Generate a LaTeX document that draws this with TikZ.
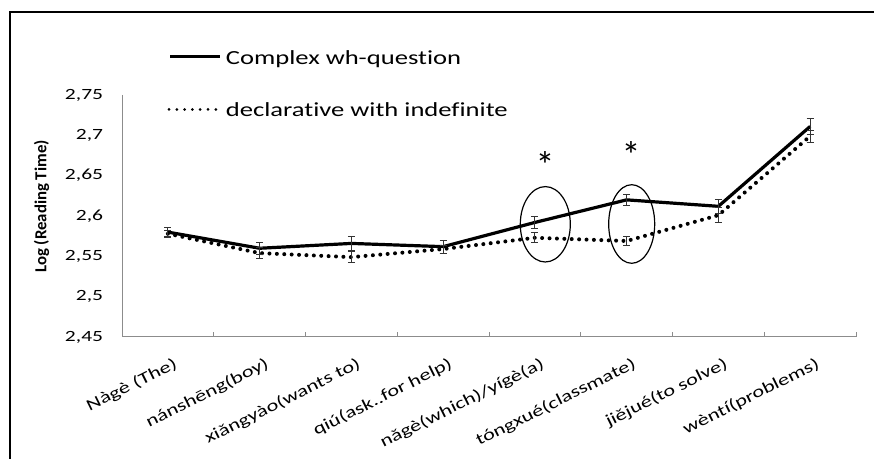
\documentclass[tikz,border=0pt]{standalone}
\usepackage{fontspec}
\setmainfont{Carlito}[RawFeature={-liga}]
\usepackage{graphicx}
\begin{document}
\begin{tikzpicture}[x=0.5pt,y=-0.5pt,
  declare function={yv(\v)=337-(\v-2.45)*806.67;},
  axisline/.style={draw=black!45, line width=0.5pt},
  seriesA/.style={line width=1.6pt, line join=round, black},
  seriesB/.style={line width=2pt, line cap=round, dash pattern=on 0pt off 3.7pt, black},
  errbar/.style={line width=0.5pt, black!80},
  ticklab/.style={font=\fontsize{7.8}{9}\selectfont, anchor=east, inner sep=0pt},
  catlab/.style={font=\fontsize{8.2}{9}\selectfont, anchor=north east, rotate=26.5, inner sep=0pt},
  ring/.style={draw=black, line width=0.6pt},
  legtext/.style={font=\fontsize{10}{12}\selectfont, anchor=base west, inner sep=0pt},
  star/.style={font=\fontsize{19}{21}\selectfont, anchor=base, inner sep=0pt},
]
\useasboundingbox (0,0) rectangle (874,459);
\fill[white] (0,0) rectangle (874,459);
% frame
\draw[line width=1pt] (10,459) -- (10,12.5) -- (874,12.5);
% axes
\coordinate (ytop) at (122,95);
\coordinate (orig) at (122,337);
\coordinate (xend) at (856,337);
\draw[axisline] (ytop) -- (orig) -- (xend);
\foreach \i in {1,...,8} \draw[axisline] ({122+91.75*\i},337) -- ({122+91.75*\i},332);
% tick labels
\foreach \v/\t [count=\k] in {2.45/{2,45},2.5/{2,5},2.55/{2,55},2.6/{2,6},2.65/{2,65},2.7/{2,7},2.75/{2,75}}
  \node[ticklab] (tl\k) at (103.5,{yv(\v)}) {\scalebox{1.38}[1]{\t}};
% y label
\node[font=\bfseries\fontsize{8.4}{10}\selectfont, rotate=90, inner sep=0pt] (ylab) at (41.5,206.5) {Log (Reading Time)};
% category labels
\foreach \t [count=\k from 0] in {{Nàgè (The)},{nánshēng(boy)},{xiǎngyào(wants to)},{qiú(ask..for help)},{nǎgè(which)/yígè(a)},{tóngxué(classmate)},{jiějué(to solve)},{wèntí(problems)}}
  \node[catlab] (cat\k) at ({167.9+91.75*\k+5},356) {\scalebox{1.36}[1]{\t}};
% data points
\foreach \v [count=\k] in {2.580,2.560,2.566,2.562,2.592,2.620,2.612,2.711}
  \coordinate (a\k) at ({167.9+91.75*(\k-1)},{yv(\v)});
\foreach \v [count=\k] in {2.578,2.554,2.549,2.559,2.573,2.569,2.601,2.699}
  \coordinate (b\k) at ({167.9+91.75*(\k-1)},{yv(\v)});
\draw[seriesA] (a1) -- (a2) -- (a3) -- (a4) -- (a5) -- (a6) -- (a7) -- (a8);
\draw[seriesB] (b1) -- (b2) -- (b3) -- (b4) -- (b5) -- (b6) -- (b7) -- (b8);
% error bars
\foreach \v/\e [count=\k] in {2.580/0.0055,2.560/0.0074,2.566/0.0083,2.562/0.008,2.592/0.0074,2.620/0.0072,2.612/0.0087,2.711/0.010}
  {\pgfmathsetmacro\xx{167.9+91.75*(\k-1)}
   \draw[errbar] (\xx-3.5,{yv(\v+\e)}) -- (\xx+3.5,{yv(\v+\e)})
                 (\xx,{yv(\v+\e)}) -- (\xx,{yv(\v-\e)})
                 (\xx-3.5,{yv(\v-\e)}) -- (\xx+3.5,{yv(\v-\e)});}
\foreach \v/\e [count=\k] in {2.578/0.0045,2.554/0.0073,2.549/0.007,2.559/0.005,2.573/0.006,2.569/0.006,2.601/0.0093,2.699/0.0073}
  {\pgfmathsetmacro\xx{167.9+91.75*(\k-1)}
   \draw[errbar] (\xx-3.5,{yv(\v+\e)}) -- (\xx+3.5,{yv(\v+\e)})
                 (\xx,{yv(\v+\e)}) -- (\xx,{yv(\v-\e)})
                 (\xx-3.5,{yv(\v-\e)}) -- (\xx+3.5,{yv(\v-\e)});}
% significance rings and stars
\draw[ring] (545.3,224.3) ellipse [x radius=25, y radius=37.7];
\draw[ring] (631.7,224) ellipse [x radius=23, y radius=39.3];
\node[star] (s1) at (545,178.5) {*};
\node[star] (s2) at (631,168.5) {*};
% legend
\coordinate (la1) at (170,56.5);
\coordinate (la2) at (220,56.5);
\coordinate (lb1) at (169,109.5);
\coordinate (lb2) at (217,109.5);
\draw[seriesA] (la1) -- (la2);
\draw[line width=1.5pt, line cap=round, dash pattern=on 0pt off 3.9pt] (lb1) -- (lb2);
\node[legtext] (leg1) at (225.5,64.5) {\scalebox{1.33}[1]{Complex wh-question}};
\node[legtext] (leg2) at (225.5,116.5) {\scalebox{1.33}[1]{declarative with indefinite}};
\end{tikzpicture}
\end{document}
